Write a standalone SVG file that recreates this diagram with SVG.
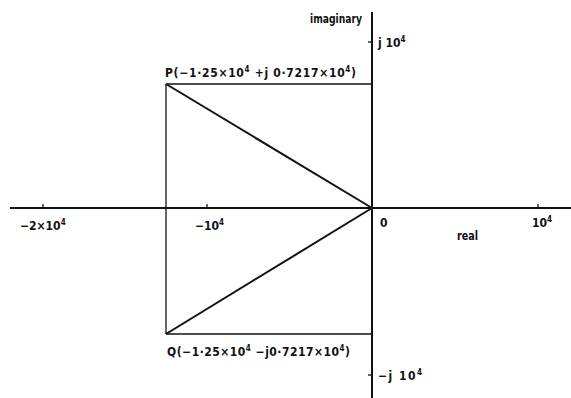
<svg xmlns="http://www.w3.org/2000/svg" width="571" height="398" viewBox="0 0 571 398">
<style>
.ax{stroke:#111;stroke-width:2;fill:none}
.ln{stroke:#111;stroke-width:1.3;fill:none}
.dg{stroke:#111;stroke-width:2;fill:none}
text{font-family:"DejaVu Sans Condensed","Liberation Sans",sans-serif;font-size:12px;fill:#111;font-weight:bold}
.sup{font-size:8px}
</style>
<rect width="571" height="398" fill="#fff"/>
<g id="axes">
<line class="ax" x1="10" y1="208" x2="571" y2="208"/>
<line class="ax" x1="372" y1="12" x2="372" y2="398"/>
<line class="ln" x1="43" y1="204" x2="43" y2="208"/>
<line class="ln" x1="207" y1="204" x2="207" y2="208"/>
<line class="ln" x1="538" y1="204" x2="538" y2="208"/>
<line class="ln" x1="368" y1="42" x2="372" y2="42"/>
<line class="ln" x1="368" y1="375" x2="372" y2="375"/>
</g>
<g id="connectors">
<line class="ln" x1="166" y1="84" x2="372" y2="84"/>
<line class="ln" x1="166" y1="334" x2="372" y2="334"/>
<line class="ln" x1="166" y1="84" x2="166" y2="334"/>
<line class="dg" x1="166" y1="84" x2="372" y2="208"/>
<line class="dg" x1="166" y1="334" x2="372" y2="208"/>
</g>
<g id="labels">
<text x="310" y="23" textLength="52" lengthAdjust="spacingAndGlyphs">imaginary</text>
<text x="378" y="47">j 10<tspan class="sup" dy="-5">4</tspan></text>
<text x="378" y="380" textLength="44">−j 10<tspan class="sup" dy="-5">4</tspan></text>
<text x="20" y="230">−2×10<tspan class="sup" dy="-5">4</tspan></text>
<text x="195" y="230">−10<tspan class="sup" dy="-5">4</tspan></text>
<text x="380" y="227">0</text>
<text x="532" y="227">10<tspan class="sup" dy="-5">4</tspan></text>
<text x="457" y="240" textLength="21" lengthAdjust="spacingAndGlyphs">real</text>
</g>
<g id="P">
<text x="165" y="77" textLength="191">P(−1·25×10<tspan class="sup" dy="-5">4</tspan><tspan dy="5"> +j 0·7217×10</tspan><tspan class="sup" dy="-5">4</tspan><tspan dy="5">)</tspan></text>
</g>
<g id="Q">
<text x="167" y="356" textLength="183">Q(−1·25×10<tspan class="sup" dy="-5">4</tspan><tspan dy="5"> −j0·7217×10</tspan><tspan class="sup" dy="-5">4</tspan><tspan dy="5">)</tspan></text>
</g>
</svg>
